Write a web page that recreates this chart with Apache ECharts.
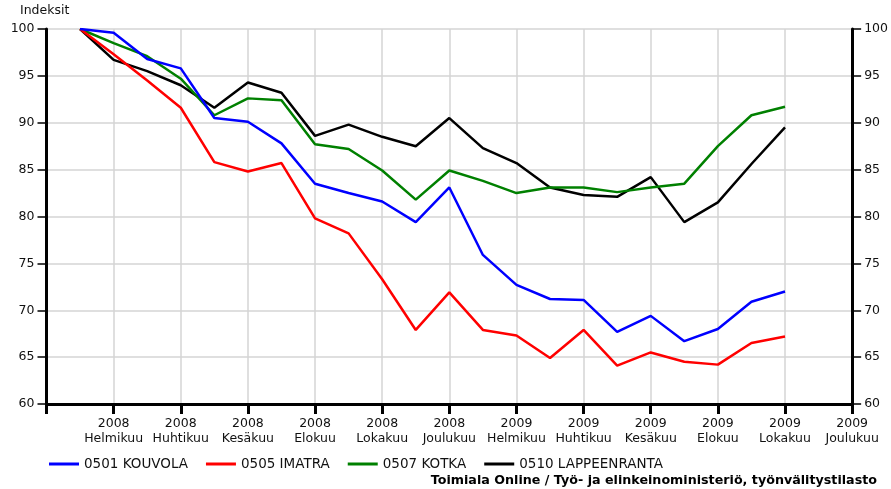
<!DOCTYPE html>
<html><head><meta charset="utf-8">
<script src="https://cdn.jsdelivr.net/npm/echarts@6/dist/echarts.min.js"></script>
<style>html,body{margin:0;padding:0;background:#fff}#c{width:891px;height:489px}</style>
</head><body><div id="c"></div>
<script>
const years = ['2007','2008','2008','2008','2008','2008','2008','2008','2008','2008','2008','2008','2008','2009','2009','2009','2009','2009','2009','2009','2009','2009','2009','2009','2009'];
const months = ['Joulukuu','Tammikuu','Helmikuu','Maaliskuu','Huhtikuu','Toukokuu','Kesäkuu','Heinäkuu','Elokuu','Syyskuu','Lokakuu','Marraskuu','Joulukuu','Tammikuu','Helmikuu','Maaliskuu','Huhtikuu','Toukokuu','Kesäkuu','Heinäkuu','Elokuu','Syyskuu','Lokakuu','Marraskuu','Joulukuu'];
const kouvola = [null,100,99.6,96.8,95.8,90.5,90.1,87.8,83.5,82.5,81.6,79.4,83.1,75.9,72.7,71.2,71.1,67.7,69.4,66.7,68.0,70.9,72.0,null,null];
const imatra = [null,100,97.3,94.5,91.6,85.8,84.8,85.7,79.8,78.2,73.3,67.9,71.9,67.9,67.3,64.9,67.9,64.1,65.5,64.5,64.2,66.5,67.2,null,null];
const kotka = [null,100,98.5,97.1,94.7,90.8,92.6,92.4,87.7,87.2,84.9,81.8,84.9,83.8,82.5,83.1,83.1,82.6,83.1,83.5,87.5,90.8,91.7,null,null];
const lappeenranta = [null,100,96.7,95.5,94.0,91.6,94.3,93.2,88.6,89.8,88.5,87.5,90.5,87.3,85.7,83.1,82.3,82.1,84.2,79.4,81.5,85.6,89.5,null,null];
const seriesNames = ['0501 KOUVOLA','0505 IMATRA','0507 KOTKA','0510 LAPPEENRANTA'];
const colors = ['#0000ff','#ff0000','#008000','#000000'];
const yTicks = {min:60,max:100,interval:5};

const cats = years.map((y,i)=>y+'\n'+months[i]);
const font = 'DejaVu Sans';
const chart = echarts.init(document.getElementById('c'),null,{renderer:'canvas'});
const yBase = (pos, split) => ({
  type:'value', position:pos, min:yTicks.min, max:yTicks.max, interval:yTicks.interval,
  axisLine:{show:true,lineStyle:{color:'#000',width:3}},
  axisTick:{show:true,length:9,lineStyle:{color:'#000',width:1.5}},
  axisLabel:{color:'#111',fontSize:12.5,fontFamily:font,margin:12},
  splitLine:{show:split,lineStyle:{color:'#d4d4d4',width:1.5}}
});
chart.setOption({
  animation:false,
  color:colors,
  textStyle:{fontFamily:font},
  grid:{left:46.5,right:36,top:29,bottom:85,containLabel:false},
  legend:{
    left:44, top:452, itemWidth:30, itemHeight:3, itemGap:18,
    icon:'rect',
    textStyle:{fontSize:13.5,color:'#111',fontFamily:font},
    data:seriesNames
  },
  graphic:[
    {type:'text',left:20,top:4,style:{text:'Indeksit',fontSize:12.5,fill:'#111',fontFamily:font}},
    {type:'text',right:14,top:474,style:{text:'Toimiala Online / Työ- ja elinkeinoministeriö, työnvälitystilasto',fontSize:12.7,fontWeight:'bold',fill:'#000',fontFamily:font}}
  ],
  xAxis:{
    type:'category', data:cats, boundaryGap:false,
    axisLine:{show:true,onZero:false,lineStyle:{color:'#000',width:3}},
    axisTick:{show:true,length:10,interval:(i)=>i%2===0,lineStyle:{color:'#000',width:3}},
    axisLabel:{interval:(i)=>i%2===0&&i>0,color:'#111',fontSize:12.5,fontFamily:font,lineHeight:15,margin:12},
    splitLine:{show:true,interval:(i)=>i%2===0&&i>0,lineStyle:{color:'#d4d4d4',width:1.5}}
  },
  yAxis:[yBase('left',true), yBase('right',false)],
  series:[kouvola,imatra,kotka,lappeenranta].map((d,i)=>({
    name:seriesNames[i], type:'line', data:d, showSymbol:false, symbol:'none',
    lineStyle:{width:2.5,color:colors[i]}, itemStyle:{color:colors[i]}, connectNulls:false,
    z:10-i
  }))
});
</script></body></html>
